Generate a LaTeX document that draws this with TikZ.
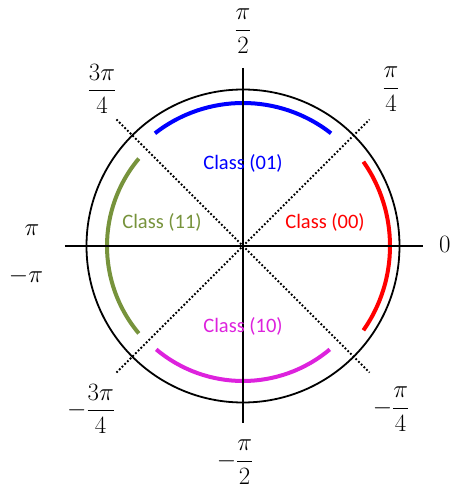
\documentclass[tikz,border=0pt]{standalone}
\usepackage{fontspec}
\setsansfont{Carlito}
\usepackage{amsmath}
\definecolor{QRed}{HTML}{FF0000}
\definecolor{QBlue}{HTML}{0000FF}
\definecolor{QGreen}{HTML}{77933C}
\definecolor{QMagenta}{HTML}{DD22DD}
\tikzset{
  classarc/.style={line width=4pt},
  classlbl/.style={font=\sffamily\fontsize{20.5}{24}\selectfont,inner sep=0pt},
  anglbl/.style={font=\fontsize{24}{28}\selectfont,inner sep=0pt},
  axisline/.style={line width=2pt},
  diagline/.style={line width=1.8pt,dotted},
}
\begin{document}
\begin{tikzpicture}[x=1pt,y=1pt]
\path[use as bounding box] (-243,-246) rectangle (207,246);
% coloured class arcs
\draw[classarc,QRed] (-35:147) arc (-35:35:147);
\draw[classarc,QBlue] (52:143) arc (52:128:143);
\draw[classarc,QGreen] (140:136) arc (140:220:136);
\draw[classarc,QMagenta] (-130:135) arc (-130:-50:135);
% unit circle and axes
\coordinate (O) at (0,0);
\coordinate (xl) at (-178,0);
\coordinate (xr) at (180,0);
\coordinate (yt) at (0,178);
\coordinate (yb) at (0,-177);
\coordinate (d1) at (45:179);
\coordinate (d2) at (135:179);
\coordinate (d3) at (225:179);
\coordinate (d4) at (315:179);
\draw[line width=1.8pt] (O) circle (156.5);
\draw[axisline] (xl) -- (xr);
\draw[axisline] (yt) -- (yb);
\draw[diagline] (d3) -- (d1);
\draw[diagline] (d2) -- (d4);
% class labels
\node[classlbl,text=QBlue] (c01) at (0,83) {Class (01)};
\node[classlbl,text=QGreen] (c11) at (-81,24) {Class (11)};
\node[classlbl,text=QRed] (c00) at (82,24) {Class (00)};
\node[classlbl,text=QMagenta] (c10) at (0,-80) {Class (10)};
% angle labels
\node[anglbl] (a90) at (0,215) {$\dfrac{\pi}{2}$};
\node[anglbl] (a135) at (-141,157) {$\dfrac{3\pi}{4}$};
\node[anglbl] (a45) at (148,157) {$\dfrac{\pi}{4}$};
\node[anglbl] (a180) at (-211,16) {$\pi$};
\node[anglbl] (am180) at (-217,-30) {$-\pi$};
\node[anglbl,anchor=west,font=\fontsize{28}{32}\selectfont] (a0) at (196,2) {$0$};
\node[anglbl] (am135) at (-152,-163) {$-\dfrac{3\pi}{4}$};
\node[anglbl] (am45) at (148,-163) {$-\dfrac{\pi}{4}$};
\node[anglbl] (am90) at (-8,-216) {$-\dfrac{\pi}{2}$};
\end{tikzpicture}
\end{document}
